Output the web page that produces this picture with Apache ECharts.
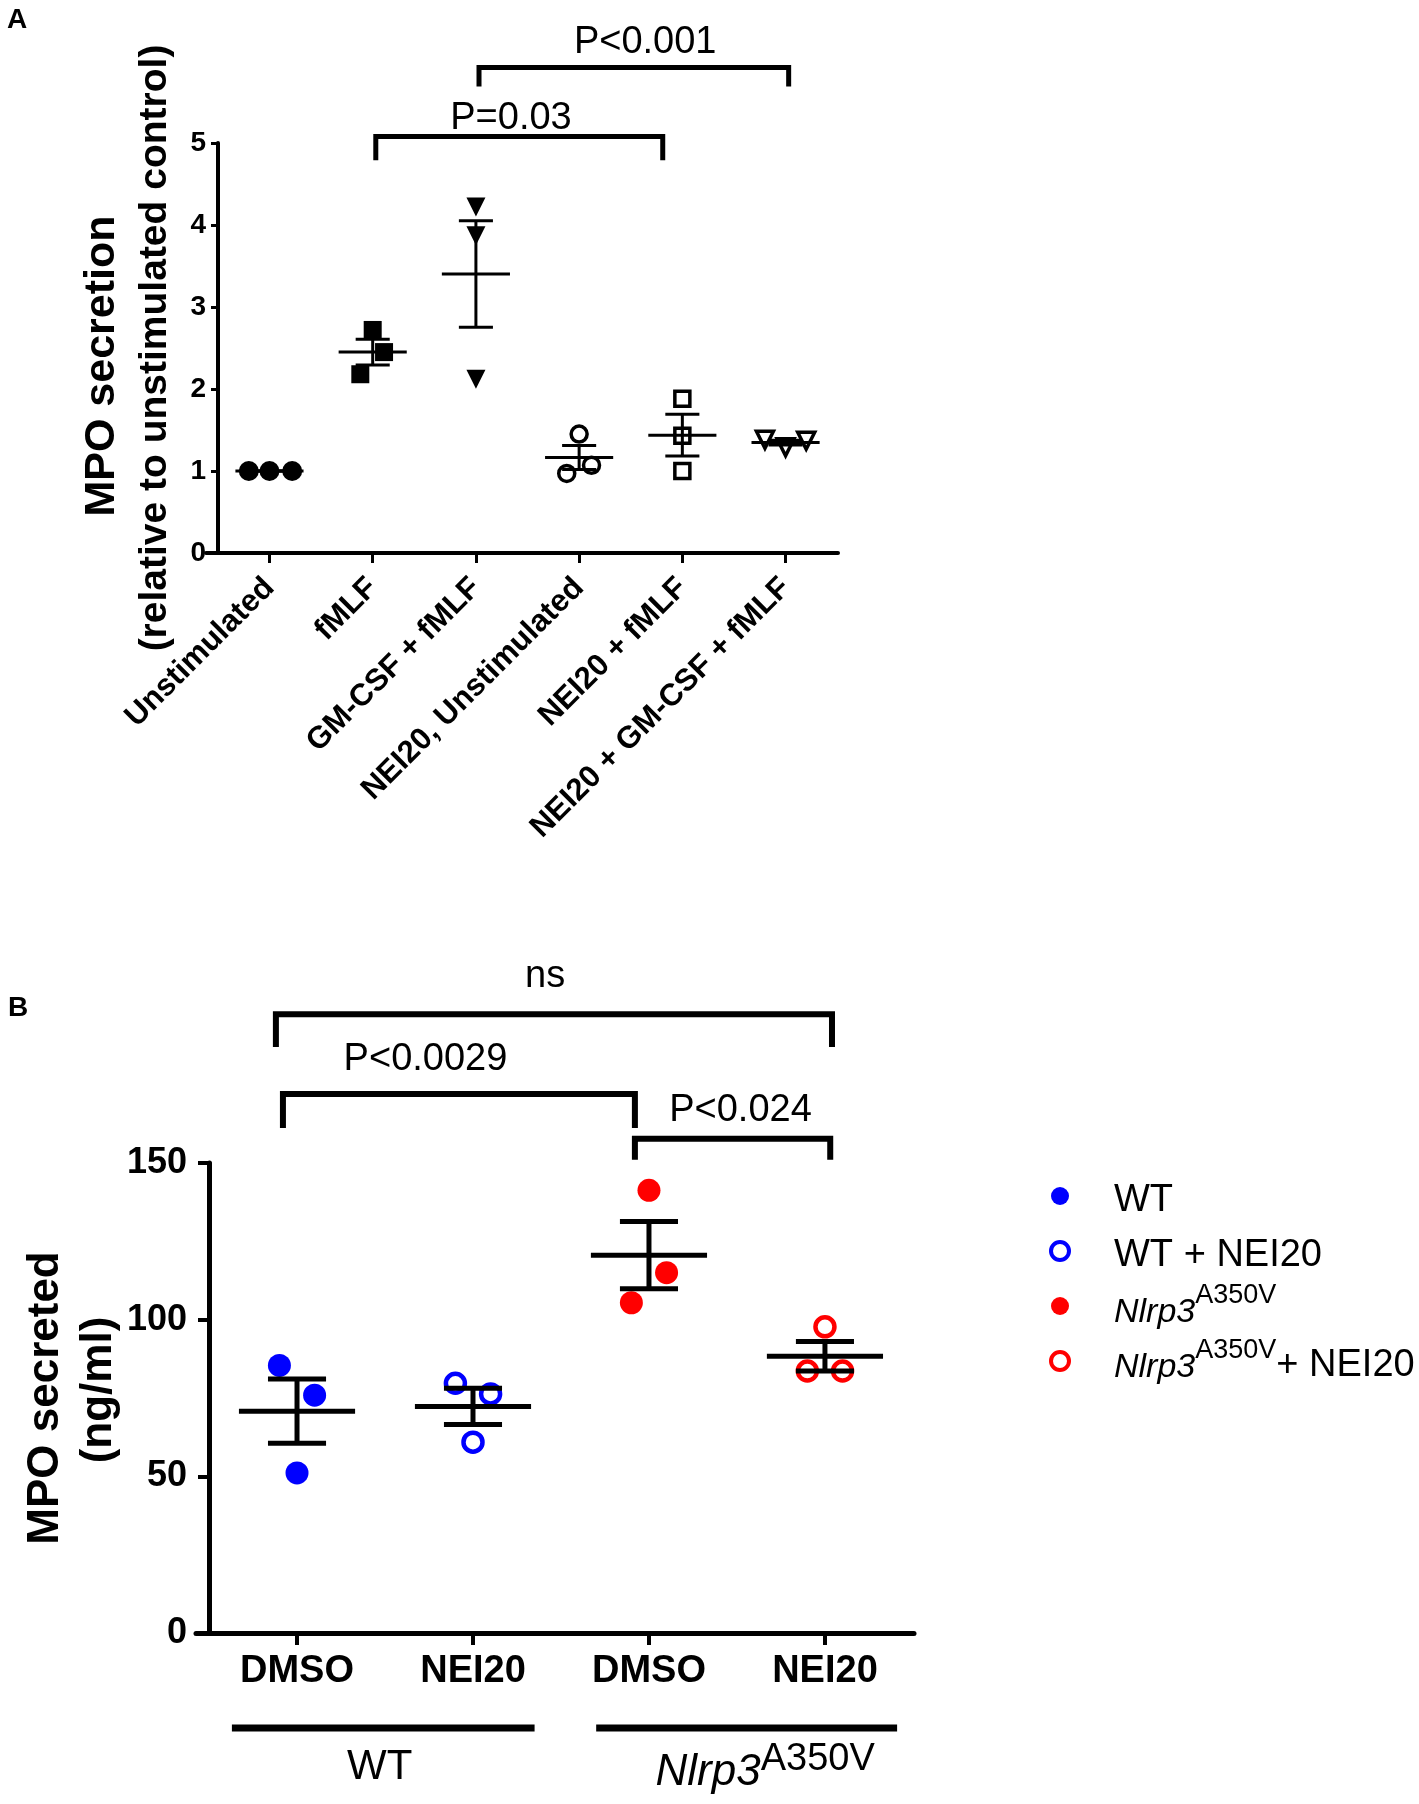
<!DOCTYPE html>
<html><head><meta charset="utf-8">
<script src="https://cdn.jsdelivr.net/npm/echarts@6/dist/echarts.min.js"></script>
<style>html,body{margin:0;padding:0;background:#fff}#c{width:1419px;height:1804px}</style>
</head><body><div id="c"></div>
<script>
const FONT = '"Liberation Sans", Arial, Helvetica, sans-serif';

// ---------- Panel A data ----------
const categoriesA = ['Unstimulated', 'fMLF', 'GM-CSF + fMLF', 'NEI20, Unstimulated', 'NEI20 + fMLF', 'NEI20 + GM-CSF + fMLF'];
const unstimulated = [1.00, 1.00, 1.00];
const fmlf = [2.72, 2.45, 2.18];
const gmcsfFmlf = [4.22, 3.87, 2.12];
const nei20Unstim = [1.45, 1.07, 0.97];
const nei20Fmlf = [1.88, 1.43, 1.00];
const nei20GmcsfFmlf = [1.38, 1.29, 1.37];
const valuesA = [unstimulated, fmlf, gmcsfFmlf, nei20Unstim, nei20Fmlf, nei20GmcsfFmlf];
const ticksA = [0, 1, 2, 3, 4, 5];
const bracketsA = [
  { label: 'P=0.03', from: 1.03, to: 3.81, top: 5.08, drop: 4.79, labelX: 2.34, labelY: 5.30 },
  { label: 'P<0.001', from: 2.03, to: 5.03, top: 5.92, drop: 5.69, labelX: 3.64, labelY: 6.23 }
];

// ---------- Panel B data ----------
const categoriesB = ['DMSO', 'NEI20', 'DMSO', 'NEI20'];
const seriesNamesB = ['WT', 'WT + NEI20', 'Nlrp3 A350V', 'Nlrp3 A350V + NEI20'];
const wtDmso = [85.4, 75.9, 51.1];
const wtNei20 = [79.7, 76.3, 60.9];
const mutDmso = [141.3, 115.0, 105.4];
const mutNei20 = [97.7, 83.6, 83.6];
const valuesB = [wtDmso, wtNei20, mutDmso, mutNei20];
const ticksB = [0, 50, 100, 150];
const bracketsB = [
  { label: 'ns', from: -0.12, to: 3.04, top: 197.5, drop: 187.0, labelX: 1.41, labelY: 209.4 },
  { label: 'P<0.0029', from: -0.08, to: 1.92, top: 172.0, drop: 161.2, labelX: 0.73, labelY: 182.9 },
  { label: 'P<0.024', from: 1.92, to: 3.03, top: 157.7, drop: 151.0, labelX: 2.52, labelY: 166.9 }
];
const groupsB = [
  { main: 'WT', sup: '', from: -0.37, to: 1.35, textX: 0.47 },
  { main: 'Nlrp3', sup: 'A350V', from: 1.70, to: 3.41, textX: 2.66 }
];

// ---------- layout / style (not data) ----------
const JITTER_A = [[-0.2, 0, 0.22], [0, 0.11, -0.12], [0, 0, 0], [0, 0.12, -0.12], [0, 0, 0], [-0.2, 0, 0.2]];
const JITTER_B = [[-0.1, 0.1, 0], [-0.1, 0.1, 0], [0, 0.1, -0.1], [0, 0.1, -0.1]];
const SYM_A = [
  { symbol: 'circle', size: 20, filled: true, rotate: 0 },
  { symbol: 'rect', size: 18, filled: true, rotate: 0 },
  { symbol: 'triangle', size: 19, filled: true, rotate: 180 },
  { symbol: 'circle', size: 16, filled: false, rotate: 0 },
  { symbol: 'rect', size: 15, filled: false, rotate: 0 },
  { symbol: 'triangle', size: 17, filled: false, rotate: 180 }
];
const COL_B = ['#0000ff', '#0000ff', '#ff0000', '#ff0000'];
const FILLED_B = [true, false, true, false];

function stats(arr) {
  const n = arr.length;
  const m = arr.reduce((a, b) => a + b, 0) / n;
  const sd = Math.sqrt(arr.reduce((a, b) => a + (b - m) * (b - m), 0) / (n - 1));
  return [m, sd / Math.sqrt(n)];
}

function meanRender(lw, half, cap) {
  return function (params, api) {
    const x = api.value(0), m = api.value(1), s = api.value(2);
    const st = { stroke: '#000', lineWidth: lw, lineCap: 'butt' };
    const L = (a, b) => ({ type: 'line', shape: { x1: a[0], y1: a[1], x2: b[0], y2: b[1] }, style: st });
    return {
      type: 'group', children: [
        L(api.coord([x - half, m]), api.coord([x + half, m])),
        L(api.coord([x, m - s]), api.coord([x, m + s])),
        L(api.coord([x - cap, m + s]), api.coord([x + cap, m + s])),
        L(api.coord([x - cap, m - s]), api.coord([x + cap, m - s]))
      ]
    };
  };
}

function bracketRender(list, lw, fontSize) {
  return function (params, api) {
    const b = list[params.dataIndex];
    const p1 = api.coord([b.from, b.drop]), p2 = api.coord([b.from, b.top]);
    const p3 = api.coord([b.to, b.top]), p4 = api.coord([b.to, b.drop]);
    const t = api.coord([b.labelX, b.labelY]);
    return {
      type: 'group', children: [
        { type: 'polyline', shape: { points: [p1, p2, p3, p4] }, style: { stroke: '#000', lineWidth: lw, fill: null, lineJoin: 'miter' } },
        { type: 'text', x: t[0], y: t[1], style: { text: b.label, fontSize: fontSize, fontFamily: FONT, fill: '#000', align: 'center', verticalAlign: 'middle' } }
      ]
    };
  };
}

function groupRender(params, api) {
  const g = groupsB[params.dataIndex];
  const a = api.coord([g.from, -30.3]), b = api.coord([g.to, -30.3]);
  const t = api.coord([g.textX, -43]);
  const txt = g.sup ? '{i|' + g.main + '}{s|' + g.sup + '}' : '{n|' + g.main + '}';
  return {
    type: 'group', children: [
      { type: 'line', shape: { x1: a[0], y1: a[1], x2: b[0], y2: b[1] }, style: { stroke: '#000', lineWidth: 7 } },
      { type: 'text', x: t[0], y: t[1], style: {
        text: txt, fill: '#000', align: 'center', verticalAlign: 'middle', fontFamily: FONT,
        rich: {
          n: { fontSize: 42, fontFamily: FONT, lineHeight: 54, verticalAlign: 'middle' },
          i: { fontSize: 44, fontStyle: 'italic', fontFamily: FONT, lineHeight: 54, verticalAlign: 'bottom' },
          s: { fontSize: 38, fontFamily: FONT, lineHeight: 38, verticalAlign: 'top' }
        }
      } }
    ]
  };
}

const series = [];
valuesA.forEach((vals, i) => {
  const s = SYM_A[i];
  series.push({
    type: 'scatter', xAxisIndex: 0, yAxisIndex: 0, z: 2,
    symbol: s.symbol, symbolSize: s.size, symbolRotate: s.rotate,
    itemStyle: s.filled ? { color: '#000', borderWidth: 0, opacity: 1 } : { color: '#fff', borderColor: '#000', borderWidth: 3.5, opacity: 1 },
    data: vals.map((v, j) => [i + JITTER_A[i][j], v])
  });
});
series.push({ type: 'custom', xAxisIndex: 0, yAxisIndex: 0, z: 5, clip: false, silent: true,
  renderItem: meanRender(3, 0.33, 0.165), data: valuesA.map((v, i) => { const s = stats(v); return [i, s[0], s[1]]; }) });
series.push({ type: 'custom', xAxisIndex: 0, yAxisIndex: 0, z: 5, clip: false, silent: true,
  renderItem: bracketRender(bracketsA, 5, 38), data: bracketsA.map(b => [b.from, b.top]) });

valuesB.forEach((vals, i) => {
  series.push({
    name: seriesNamesB[i], type: 'scatter', xAxisIndex: 1, yAxisIndex: 1, z: 2,
    symbol: 'circle', symbolSize: FILLED_B[i] ? 23 : 19,
    itemStyle: FILLED_B[i] ? { color: COL_B[i], borderWidth: 0, opacity: 1 } : { color: '#fff', borderColor: COL_B[i], borderWidth: 4.5, opacity: 1 },
    data: vals.map((v, j) => [i + JITTER_B[i][j], v])
  });
});
series.push({ type: 'custom', xAxisIndex: 1, yAxisIndex: 1, z: 5, clip: false, silent: true,
  renderItem: meanRender(5, 0.33, 0.165), data: valuesB.map((v, i) => { const s = stats(v); return [i, s[0], s[1]]; }) });
series.push({ type: 'custom', xAxisIndex: 1, yAxisIndex: 1, z: 5, clip: false, silent: true,
  renderItem: bracketRender(bracketsB, 6, 38), data: bracketsB.map(b => [b.from, b.top]) });
series.push({ type: 'custom', xAxisIndex: 1, yAxisIndex: 1, z: 5, clip: false, silent: true,
  renderItem: groupRender, data: groupsB.map(g => [g.from, -30]) });

const legendText = {
  'WT': '{n|WT}',
  'WT + NEI20': '{n|WT + NEI20}',
  'Nlrp3 A350V': '{i|Nlrp3}{s|A350V}',
  'Nlrp3 A350V + NEI20': '{i|Nlrp3}{s|A350V}{n|+ NEI20}'
};

const option = {
  animation: false,
  backgroundColor: '#fff',
  grid: [
    { left: 206, top: 143, width: 632, height: 410 },
    { left: 196, top: 1163, width: 718, height: 470 }
  ],
  xAxis: [
    { gridIndex: 0, type: 'value', min: -0.615, max: 5.508, splitLine: { show: false },
      axisLine: { show: true, onZero: false, lineStyle: { color: '#000', width: 4 } },
      axisTick: { show: true, customValues: categoriesA.map((c, i) => i), length: 10, lineStyle: { color: '#000', width: 3 } },
      axisLabel: { show: true, customValues: categoriesA.map((c, i) => i), formatter: v => categoriesA[Math.round(v)],
        rotate: 45, fontSize: 31, fontWeight: 'bold', fontFamily: FONT, color: '#000', margin: 30 } },
    { gridIndex: 1, type: 'value', min: -0.574, max: 3.506, splitLine: { show: false },
      axisLine: { show: true, onZero: false, lineStyle: { color: '#000', width: 5 } },
      axisTick: { show: true, customValues: categoriesB.map((c, i) => i), length: 12, lineStyle: { color: '#000', width: 4 } },
      axisLabel: { show: true, customValues: categoriesB.map((c, i) => i), formatter: v => categoriesB[Math.round(v)],
        fontSize: 38, fontWeight: 'bold', fontFamily: FONT, color: '#000', margin: 20 } }
  ],
  yAxis: [
    { gridIndex: 0, type: 'value', min: ticksA[0], max: ticksA[ticksA.length - 1], interval: 1, offset: -12, splitLine: { show: false },
      axisLine: { show: true, onZero: false, lineStyle: { color: '#000', width: 4 } },
      axisTick: { show: true, length: 7, lineStyle: { color: '#000', width: 3 } },
      axisLabel: { fontSize: 28, fontWeight: 'bold', fontFamily: FONT, color: '#000', margin: 12 } },
    { gridIndex: 1, type: 'value', min: ticksB[0], max: ticksB[ticksB.length - 1], interval: 50, offset: -13, splitLine: { show: false },
      axisLine: { show: true, onZero: false, lineStyle: { color: '#000', width: 5 } },
      axisTick: { show: true, length: 11, lineStyle: { color: '#000', width: 4 } },
      axisLabel: { fontSize: 36, fontWeight: 'bold', fontFamily: FONT, color: '#000', margin: 22 } }
  ],
  legend: {
    data: [
      { name: seriesNamesB[0], itemStyle: { color: '#0000ff', borderWidth: 0, opacity: 1 } },
      { name: seriesNamesB[1], itemStyle: { color: '#fff', borderColor: '#0000ff', borderWidth: 4, opacity: 1 } },
      { name: seriesNamesB[2], itemStyle: { color: '#ff0000', borderWidth: 0, opacity: 1 } },
      { name: seriesNamesB[3], itemStyle: { color: '#fff', borderColor: '#ff0000', borderWidth: 4, opacity: 1 } }
    ],
    orient: 'vertical', left: 1049, top: 1172, padding: 0, itemGap: 7,
    itemWidth: 98, itemHeight: 18, selectedMode: false, icon: 'circle',
    formatter: name => legendText[name],
    textStyle: {
      color: '#000', fontFamily: FONT, fontSize: 38, lineHeight: 48,
      rich: {
        n: { fontSize: 38, fontFamily: FONT, lineHeight: 48, verticalAlign: 'bottom', color: '#000' },
        i: { fontSize: 34, fontStyle: 'italic', fontFamily: FONT, lineHeight: 48, verticalAlign: 'bottom', color: '#000' },
        s: { fontSize: 27, fontFamily: FONT, lineHeight: 27, verticalAlign: 'top', color: '#000' }
      }
    }
  },
  graphic: [
    { type: 'text', x: 7, y: 20, style: { text: 'A', font: 'bold 28px ' + FONT, fill: '#000', align: 'left', verticalAlign: 'middle' } },
    { type: 'text', x: 8, y: 1008, style: { text: 'B', font: 'bold 28px ' + FONT, fill: '#000', align: 'left', verticalAlign: 'middle' } },
    { type: 'text', x: 102, y: 366, rotation: Math.PI / 2, style: { text: 'MPO secretion', font: 'bold 43px ' + FONT, fill: '#000', align: 'center', verticalAlign: 'middle' } },
    { type: 'text', x: 155, y: 348, rotation: Math.PI / 2, style: { text: '(relative to unstimulated control)', font: 'bold 39px ' + FONT, fill: '#000', align: 'center', verticalAlign: 'middle' } },
    { type: 'text', x: 46, y: 1398, rotation: Math.PI / 2, style: { text: 'MPO secreted', font: 'bold 44px ' + FONT, fill: '#000', align: 'center', verticalAlign: 'middle' } },
    { type: 'text', x: 99, y: 1390, rotation: Math.PI / 2, style: { text: '(ng/ml)', font: 'bold 44px ' + FONT, fill: '#000', align: 'center', verticalAlign: 'middle' } }
  ],
  series: series
};

const chart = echarts.init(document.getElementById('c'), null, { renderer: 'canvas' });
chart.setOption(option);
</script>
</body></html>
